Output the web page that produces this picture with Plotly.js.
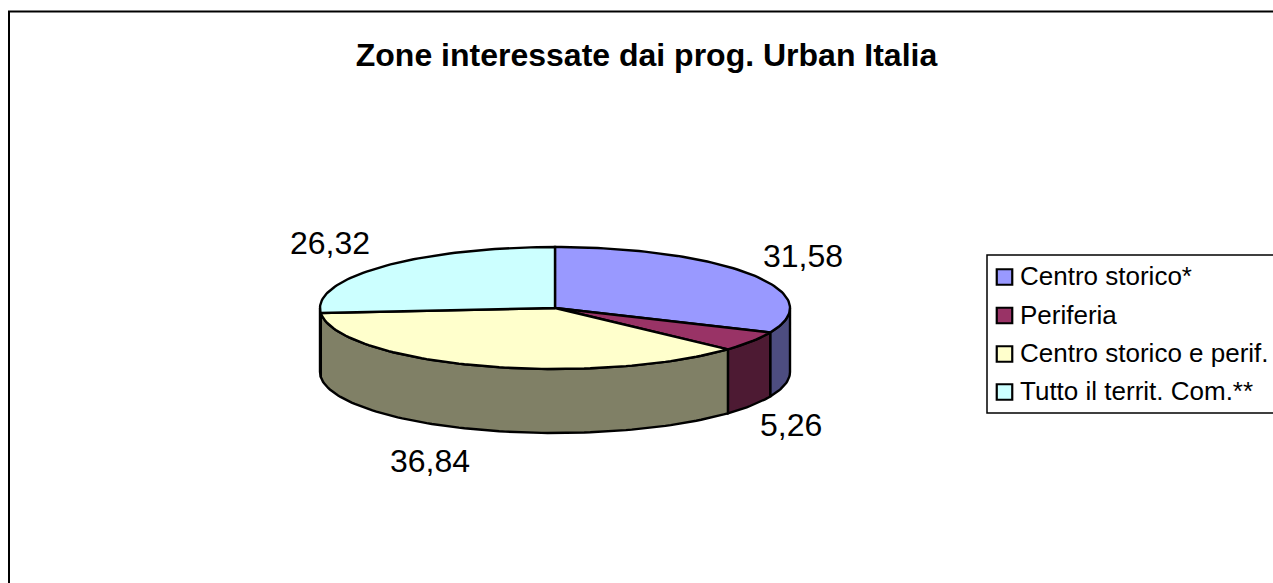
<!DOCTYPE html>
<html>
<head>
<meta charset="utf-8">
<script src="https://cdn.plot.ly/plotly-3.0.1.min.js"></script>
<style>html,body{margin:0;padding:0;background:#fff;overflow:hidden}</style>
</head>
<body>
<div id="chart" style="width:1273px;height:583px"></div>
<script>
// Data
const categories = ["Centro storico*", "Periferia", "Centro storico e perif.", "Tutto il territ. Com.**"];
const values = [31.58, 5.26, 36.84, 26.32];
const topColors = ["#9999FF", "#993366", "#FFFFCC", "#CCFFFF"];
const wallColors = ["#4D4D80", "#4D1A33", "#808066", "#668080"];
const valueLabels = ["31,58", "5,26", "36,84", "26,32"];
const labelX = [803, 791, 430, 330];
const labelY = [256, 425, 461, 243];
const legendRowY = [277, 315.5, 354, 392];
const legendTextY = [278.5, 317, 355.5, 393.5];

// Projection of the tilted pie onto the pixel-scaled axes
const cx = 555, cy = 308, rx = 235, ry = 61, depth = 64;
const px = a => cx + rx * Math.sin(a * Math.PI / 180);
const py = (a, d) => cy - ry * Math.cos(a * Math.PI / 180) + d;
function arc(a0, a1, d) {
  const n = Math.max(2, Math.ceil(Math.abs(a1 - a0) / 1.5));
  const xs = [], ys = [];
  for (let i = 0; i <= n; i++) {
    const a = a0 + (a1 - a0) * i / n;
    xs.push(px(a)); ys.push(py(a, d));
  }
  return [xs, ys];
}

const total = values.reduce((s, v) => s + v, 0);
let start = 0;
const slices = values.map(v => {
  const s = {a0: start, a1: start + v / total * 360};
  start = s.a1;
  return s;
});

const common = {
  type: "scatter", mode: "lines", fill: "toself", hoverinfo: "skip", showlegend: false,
  line: {color: "#000", width: 2.4}
};
const traces = [];
slices.forEach((s, i) => {
  const a0 = Math.max(s.a0, 90), a1 = Math.min(s.a1, 270);
  if (a1 <= a0) return;
  const [tx, ty] = arc(a0, a1, 0);
  const [bx, by] = arc(a1, a0, depth);
  traces.push(Object.assign({}, common, {
    x: tx.concat(bx, [tx[0]]), y: ty.concat(by, [ty[0]]), fillcolor: wallColors[i]
  }));
});
slices.forEach((s, i) => {
  const [tx, ty] = arc(s.a0, s.a1, 0);
  traces.push(Object.assign({}, common, {
    x: [cx].concat(tx, [cx]), y: [cy].concat(ty, [cy]), fillcolor: topColors[i]
  }));
});
// Legend rows
traces.push({
  type: "scatter", mode: "markers", showlegend: false, hoverinfo: "skip",
  x: categories.map(() => 1004.5), y: legendRowY,
  marker: {symbol: "square", size: 15.5, color: topColors, line: {color: "#000", width: 2.2}}
});
traces.push({
  type: "scatter", mode: "text", showlegend: false, hoverinfo: "skip",
  x: categories.map(() => 1020), y: legendTextY,
  text: categories, textposition: "middle right",
  textfont: {family: "Liberation Sans, Arial, sans-serif", size: 26, color: "#000"}
});

const annotations = valueLabels.map((t, i) => ({
  text: t, x: labelX[i], y: labelY[i], xref: "x", yref: "y", showarrow: false,
  xanchor: "center", yanchor: "middle",
  font: {family: "Liberation Sans, Arial, sans-serif", size: 32, color: "#000"}
}));

const layout = {
  width: 1273, height: 583,
  margin: {l: 0, r: 0, t: 0, b: 0},
  paper_bgcolor: "#fff", plot_bgcolor: "#fff",
  showlegend: false,
  title: {
    text: "<b>Zone interessate dai prog. Urban Italia</b>",
    x: 646.5 / 1273, xanchor: "center", y: 1 - 55 / 583, yanchor: "middle",
    font: {family: "Liberation Sans, Arial, sans-serif", size: 32, color: "#000"}
  },
  xaxis: {range: [0, 1273], visible: false, fixedrange: true},
  yaxis: {range: [583, 0], visible: false, fixedrange: true},
  annotations: annotations,
  shapes: [
    {type: "rect", xref: "x", yref: "y", x0: 9, y0: 11.5, x1: 1290, y1: 600, layer: "below",
     line: {color: "#000", width: 2}, fillcolor: "rgba(0,0,0,0)"},
    {type: "rect", xref: "x", yref: "y", x0: 987, y0: 255, x1: 1290, y1: 413, layer: "below",
     line: {color: "#000", width: 1.5}, fillcolor: "rgba(0,0,0,0)"}
  ]
};
Plotly.newPlot("chart", traces, layout, {displayModeBar: false, responsive: false});
</script>
</body>
</html>
